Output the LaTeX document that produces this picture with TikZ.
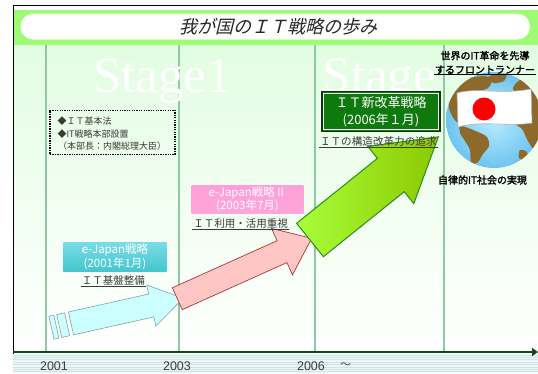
\documentclass[tikz,border=0pt]{standalone}
\usepackage{fontspec}
\setmainfont{Noto Sans CJK JP}
\newfontfamily\jpfont{Noto Sans CJK JP}
\newfontfamily\jpslant[FakeSlant=0.25]{Noto Sans CJK JP}
\newfontfamily\jpbold[FakeBold=2]{Noto Sans CJK JP}
\newfontfamily\stagefont{Liberation Serif}
\newfontfamily\yearfont{Liberation Sans}
\usetikzlibrary{arrows.meta}

\definecolor{bandgreen}{HTML}{9EFB74}
\definecolor{bgtop}{HTML}{E2FDE2}
\definecolor{bgmid}{HTML}{F1FEF1}
\definecolor{vlinecol}{HTML}{8FC9A3}
\definecolor{labelgray}{HTML}{3A3A3A}
\definecolor{cyanfill}{HTML}{CCFFFF}
\definecolor{cyanedge}{HTML}{7FA3A8}
\definecolor{pinkfill}{HTML}{FFC6C6}
\definecolor{pinkedge}{HTML}{A83838}
\definecolor{greenlight}{HTML}{A8FF3A}
\definecolor{greendeep}{HTML}{8CC800}
\definecolor{greenedge}{HTML}{2E8B1E}
\definecolor{boxgreen}{HTML}{0E7A0E}
\definecolor{boxgreenedge}{HTML}{063806}
\definecolor{ejtop}{HTML}{78DCE6}
\definecolor{ejmid}{HTML}{B8F0F4}
\definecolor{ejbot}{HTML}{44C6CE}
\definecolor{pktop}{HTML}{FF9ED8}
\definecolor{pkmid}{HTML}{FFD4EF}
\definecolor{pkbot}{HTML}{FFA6DC}
\definecolor{axisgreen}{HTML}{0E4A12}
\definecolor{stripebg}{HTML}{EEF7F7}
\definecolor{stripeline}{HTML}{D0E4E6}
\definecolor{globein}{HTML}{B8ECFF}
\definecolor{globeout}{HTML}{6EC4F0}
\definecolor{land}{HTML}{8D6A2C}

\tikzset{
  vline/.style={draw=vlinecol, line width=1.8pt},
  stagetext/.style={font=\stagefont\fontsize{51}{51}\selectfont, text=white, inner sep=0pt},
  ulabel/.style={font=\jpfont\fontsize{10.5}{12}\selectfont, text=labelgray, inner sep=0.8pt},
  uline/.style={draw=labelgray, line width=0.7pt},
  infotext/.style={font=\jpfont\fontsize{9}{10}\selectfont, text=labelgray, inner sep=0pt, anchor=west},
  datebox/.style={text=white, align=center, inner sep=0pt},
  globetext/.style={font=\jpbold\fontsize{10}{14}\selectfont, text=black, inner sep=0.6pt},
  yearlabel/.style={font=\yearfont\fontsize{12.5}{14}\selectfont, text=labelgray, inner sep=0pt},
  arrowcyan/.style={draw=cyanedge, fill=cyanfill, line width=0.6pt, line join=miter},
  arrowpink/.style={draw=pinkedge, fill=pinkfill, line width=0.7pt, line join=miter},
  arrowgreen/.style={draw=greenedge, line width=1pt, left color=greenlight, right color=greendeep, line join=miter},
}

\begin{document}
\begin{tikzpicture}[x=1pt,y=-1pt]
\useasboundingbox (0,0) rectangle (538,373);

% page and soft green backdrop
\fill[white] (0,0) rectangle (538,373);
\shade[top color=bgtop, middle color=bgmid, bottom color=white] (13,44) rectangle (538,352);

% title band
\fill[bandgreen] (13,9.5) rectangle (538,44.5);
\fill[white, rounded corners=12.5pt] (20.5,13.7) rectangle (530,39.5);
\node[font=\jpslant\fontsize{18}{20}\selectfont, text=black!85, inner sep=0pt] (title) at (278,26.5) {我が国のＩＴ戦略の歩み};

% period separators
\foreach \vx in {46,179,315,444} \draw[vline] (\vx,44.5) -- (\vx,351);

% frame
\draw[black, line width=1pt] (13,373) -- (13,5) -- (538,5);

% stage watermarks
\node[stagetext, anchor=base west] (stage1) at (93,92) {Stage1};
\node[stagetext, anchor=base west] (stage2) at (322.5,92) {Stage};

% globe
\begin{scope}
  \clip (494,120) circle (48);
  \shade[inner color=globein, outer color=globeout] (494,120) circle (48);
  \fill[land] plot[smooth cycle] coordinates {(450,96) (457,84) (470,78) (484,76) (492,80) (488,88) (478,92) (470,101) (467,113) (470,121) (462,125) (454,119) (449,108)};
  \fill[land] plot[smooth cycle] coordinates {(487,78) (496,74) (506,75) (504,81) (494,83)};
  \fill[land] plot[smooth cycle] coordinates {(460,126) (468,128) (478,132) (487,137) (489,146) (483,154) (477,163) (471,162) (470,150) (465,141) (460,133)};
  \fill[land] plot[smooth cycle] coordinates {(513,88) (520,80) (530,77) (540,82) (542,100) (541,140) (535,150) (528,141) (522,129) (514,123) (511,111) (517,100)};
  \fill[land] plot[smooth cycle] coordinates {(520,150) (527,152) (526,160) (519,158)};
\end{scope}

% flag
\filldraw[fill=white, draw=gray!60, line width=0.6pt]
  (457,93) .. controls (478,87) and (500,95) .. (531,89)
  -- (532,123) .. controls (506,127) and (484,120) .. (458,127) -- cycle;
\fill[red] (484,109) circle (11.5);

% headline texts around the globe
\node[globetext, align=center] (lead) at (485,62.5) {世界のIT革命を先導\\するフロントランナー};
\draw[black, line width=0.8pt] (lead.south west) -- (lead.south east);
\node[globetext] (selfit) at (482.5,180) {自律的IT社会の実現};

% founding measures
\node[draw=black, line width=1.4pt, dash pattern=on 1.3pt off 1.1pt, minimum width=125pt, minimum height=44pt, inner sep=0pt] (lawbox) at (112.5,132.2) {};
\node[infotext] (law1) at (57.3,120.7) {◆ＩＴ基本法};
\node[infotext] (law2) at (57.3,134.3) {◆IT戦略本部設置};
\node[infotext] (law3) at (58,145.7) {（本部長：内閣総理大臣）};

% strategy boxes
\node[datebox, top color=ejtop, middle color=ejmid, bottom color=ejbot, minimum width=103.4pt, minimum height=28.3pt, font=\jpfont\fontsize{11.5}{12}\selectfont] (ejapan) at (115,256.9) {e-Japan戦略\\(2001年1月)};
\node[datebox, top color=pktop, middle color=pkmid, bottom color=pkbot, minimum width=111.6pt, minimum height=28.3pt, font=\jpfont\fontsize{11.5}{12}\selectfont] (ejapan2) at (247.5,199.2) {e-Japan戦略Ⅱ\\(2003年7月)};
\node[datebox, fill=boxgreen, draw=boxgreenedge, line width=1.4pt, minimum width=118pt, minimum height=39.5pt, font=\jpfont\fontsize{13}{17}\selectfont] (itnew) at (381,111.5) {ＩＴ新改革戦略\\(2006年１月)};
\draw[white, line width=0.6pt] ([shift={(2.2,2.2)}]itnew.north west) rectangle ([shift={(-2.2,-2.2)}]itnew.south east);

% progress arrows
\begin{scope}[shift={(71,323.4)}, rotate=12.6]
  \filldraw[arrowcyan] (-20,-11.7) -- (-15,-11.7) -- (-15,11.7) -- (-20,11.7) -- cycle;
  \filldraw[arrowcyan] (-12,-11.7) -- (-4,-11.7) -- (-4,11.7) -- (-12,11.7) -- cycle;
  \filldraw[arrowcyan] (0,-11.7) -- (82.3,-11.7) -- (82.3,-21) -- (115,0) -- (82.3,21) -- (82.3,11.7) -- (0,11.7) -- cycle;
\end{scope}
\begin{scope}[shift={(177.3,298.7)}, rotate=24.2]
  \filldraw[arrowpink] (0,-12) -- (114.8,-12) -- (114.8,-25.5) -- (147.3,0) -- (114.8,25.5) -- (114.8,12) -- (0,12) -- cycle;
\end{scope}
\begin{scope}[shift={(310,240)}, rotate=38.8]
  \path[arrowgreen] (0,-21.4) -- (103.7,-21.4) -- (103.7,-36.7) -- (164.7,0) -- (103.7,36.7) -- (103.7,21.4) -- (0,21.4) -- cycle;
\end{scope}

% goals under each strategy
\node[ulabel] (goal1) at (113.3,280) {ＩＴ基盤整備};
\draw[uline] (goal1.south west) -- (goal1.south east);
\node[ulabel] (goal2) at (240.5,223.3) {ＩＴ利用・活用重視};
\draw[uline] (goal2.south west) -- (goal2.south east);
\node[ulabel, font=\jpfont\fontsize{10.6}{12}\selectfont] (goal3) at (378.3,141) {ＩＴの構造改革力の追求};
\draw[uline] (goal3.south west) -- (goal3.south east);

% time axis
\fill[stripebg] (13,353.5) rectangle (538,373);
\foreach \sy in {355,357.4,...,373} \draw[stripeline, line width=0.8pt] (13,\sy) -- (538,\sy);
\coordinate (axstart) at (13,352);
\coordinate (axend) at (538,352);
\draw[axisgreen, line width=2.6pt, -{Triangle[length=6pt,width=8pt]}] (axstart) -- (axend);
\node[yearlabel] (y2001) at (54,366) {2001};
\node[yearlabel] (y2003) at (177,366) {2003};
\node[yearlabel] (y2006) at (311,366) {2006};
\node[font=\jpfont\fontsize{11}{12}\selectfont, text=labelgray, inner sep=0pt] (ytilde) at (345.5,365.5) {～};
\end{tikzpicture}
\end{document}
